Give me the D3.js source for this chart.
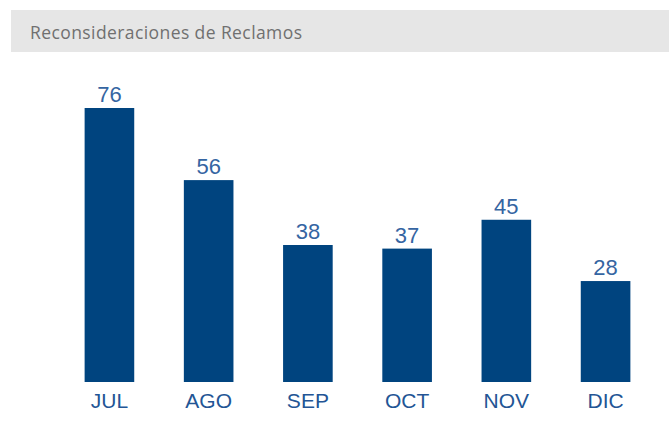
<!DOCTYPE html>
<html>
<head>
<meta charset="utf-8">
<script src="https://cdn.jsdelivr.net/npm/d3@7"></script>
<style>
  body { margin: 0; background: #fff; }
  svg { display: block; }
</style>
</head>
<body>
<div id="chart"></div>
<script>
const months = ["JUL", "AGO", "SEP", "OCT", "NOV", "DIC"];
const values = [76, 56, 38, 37, 45, 28];
const title = "Reconsideraciones de Reclamos";

const width = 669, height = 426;

const svg = d3.select("#chart").append("svg")
    .attr("width", width)
    .attr("height", height);

// title band
svg.append("rect")
    .attr("x", 11).attr("y", 10)
    .attr("width", width - 11).attr("height", 42)
    .attr("fill", "#e6e6e6");

const titleText = svg.append("text")
    .attr("x", 30).attr("y", 38.5)
    .attr("font-family", "'Open Sans', sans-serif")
    .attr("font-size", 17.5)
    .attr("fill", "#707070")
    .text(title);

// stretch the title to the width seen in the reference
const tw = titleText.node().getComputedTextLength();
if (Math.abs(tw - 272) > 4) titleText.attr("textLength", 272).attr("lengthAdjust", "spacing");

const x = d3.scaleBand()
    .domain(months)
    .range([35, 680])
    .padding(0.5);

const y = d3.scaleLinear()
    .domain([0, 80])
    .range([382, 382 - 80 * (274 / 76)]);

svg.append("g")
    .selectAll("rect")
    .data(values)
    .enter().append("rect")
    .attr("x", (d, i) => x(months[i]))
    .attr("y", d => y(d))
    .attr("width", x.bandwidth())
    .attr("height", d => y(0) - y(d))
    .attr("fill", "#00447f");

svg.append("g")
    .selectAll("text")
    .data(values)
    .enter().append("text")
    .attr("x", (d, i) => x(months[i]) + x.bandwidth() / 2)
    .attr("y", d => y(d) - 6)
    .attr("text-anchor", "middle")
    .attr("font-family", "'Liberation Sans', Arial, sans-serif")
    .attr("font-size", 22)
    .attr("fill", "#3565a2")
    .text(d => d);

const xAxis = svg.append("g")
    .attr("transform", `translate(0,${y(0)})`)
    .call(d3.axisBottom(x).tickSize(0).tickPadding(11));
xAxis.select(".domain").remove();
xAxis.selectAll("text")
    .attr("font-family", "'Liberation Sans', Arial, sans-serif")
    .attr("font-size", 21)
    .attr("fill", "#235595");
</script>
</body>
</html>
